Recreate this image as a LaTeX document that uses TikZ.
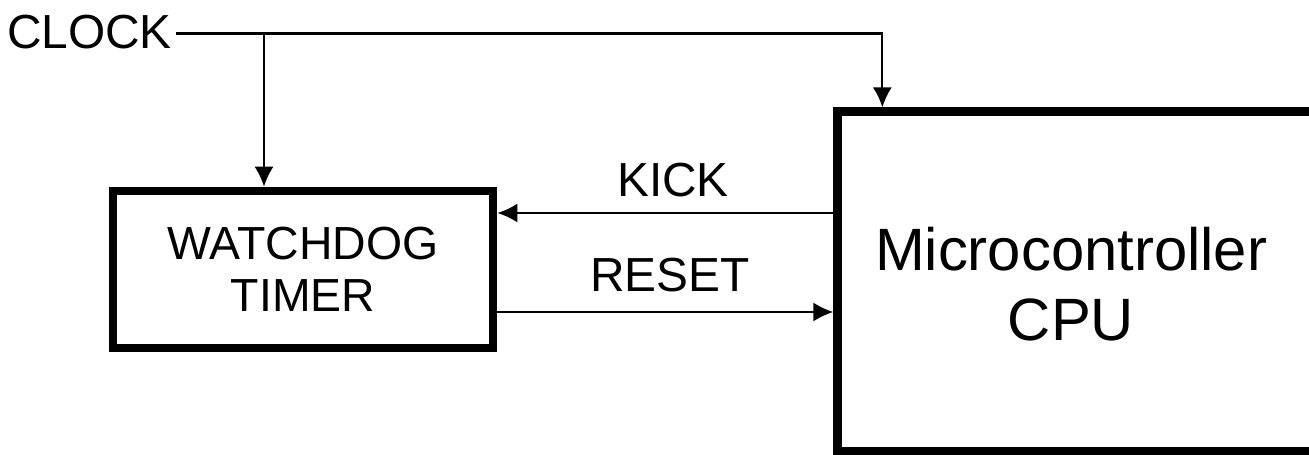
\documentclass[tikz,border=0pt]{standalone}
\usepackage{fontspec}
\setmainfont{Liberation Sans}
\usetikzlibrary{
  arrows.meta,
  positioning,
  calc
}
\tikzset{
  blockbox/.style={draw, line width=0.085cm,
    minimum width=3.8cm, minimum height=1.57cm, inner sep=0pt,
    align=center, font=\fontsize{13.2}{14.8}\selectfont},
  cpubox/.style={draw, line width=0.09cm,
    minimum width=5.4cm, minimum height=3.39cm},
  cputext/.style={align=center, font=\fontsize{17}{19.9}\selectfont},
  sig/.style={font=\fontsize{13.6}{16}\selectfont, inner sep=1pt},
  wire/.style={line width=0.6pt},
  arr/.style={wire, -{Latex[length=0.2cm, width=0.19cm]}},
}

\begin{document}
\begin{tikzpicture}[x=0.01cm, y=-0.01cm]
  \useasboundingbox (0,0) rectangle (1309,455);
  \clip (0,0) rectangle (1309,455);

  % Blocks
  \node[blockbox] (wd) at (303,269.5) {WATCHDOG\\TIMER};
  \node[cpubox] (cpu) at (1108,281.5) {};
  \node[cputext] (cpulbl) at (1071,284) {Microcontroller\\CPU};

  % Clock input
  \node[sig, anchor=east] (clock) at (176,32) {CLOCK};
  \coordinate (tap) at (264,33.5);
  \draw[arr] (clock.east |- tap) -| ($(cpu.north west)+(49,0)$);
  \draw[arr] (tap) -- (tap |- wd.north);

  % Kick and reset
  \draw[arr] (cpu.west |- 0,213) -- (wd.east |- 0,213);
  \draw[arr] (wd.east |- 0,312) -- (cpu.west |- 0,312);
  \node[sig] (kick) at (673,180) {KICK};
  \node[sig] (reset) at (670,275) {RESET};
\end{tikzpicture}
\end{document}
